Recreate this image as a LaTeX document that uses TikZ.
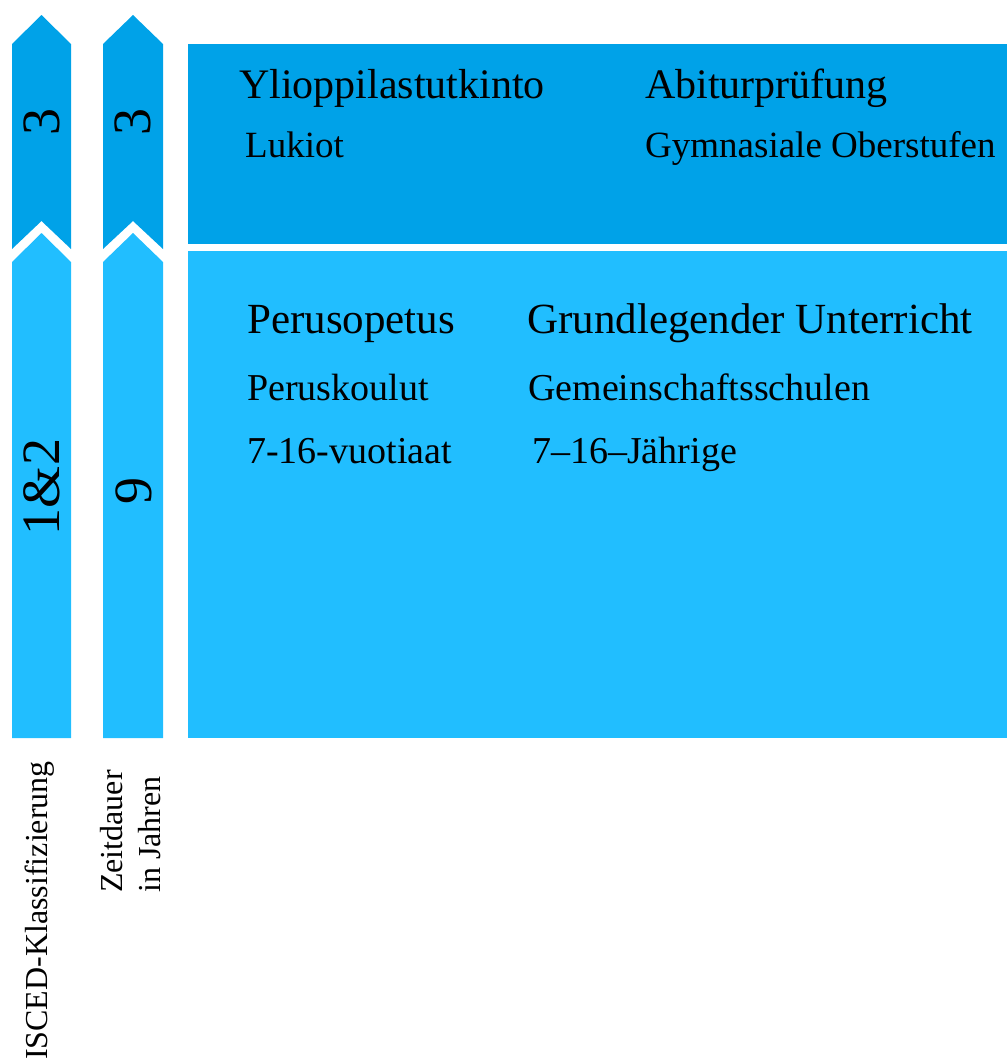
\documentclass[tikz,border=0pt]{standalone}
\usepackage{fontspec}
\setmainfont{Liberation Serif}
\definecolor{darkblue}{RGB}{0,162,232}
\definecolor{lightblue}{RGB}{33,190,255}
\begin{document}
\begin{tikzpicture}[x=1pt,y=-1pt,
  darkfill/.style={fill=darkblue,draw=none},
  lightfill/.style={fill=lightblue,draw=none},
  headtext/.style={inner sep=0pt,anchor=base west,font=\fontsize{42}{48}\selectfont},
  subtext/.style={inner sep=0pt,anchor=base west,font=\fontsize{37}{42}\selectfont},
  headtextb/.style={inner sep=0pt,anchor=base west,font=\fontsize{43}{48}\selectfont},
  subtextb/.style={inner sep=0pt,anchor=base west,font=\fontsize{38}{42}\selectfont},
  arrownum/.style={inner sep=0pt,rotate=90,font=\fontsize{54}{60}\selectfont},
  sidelabel/.style={inner sep=0pt,rotate=90,anchor=base west,font=\fontsize{32}{38}\selectfont}]
\useasboundingbox (0,0) rectangle (1007,1061);
% chevron arrows, column 1
\fill[darkfill] (12,44) -- (41.5,15) -- (71,44) -- (71,249) -- (41.5,221) -- (12,249) -- cycle;
\fill[lightfill] (12,262) -- (41.5,233) -- (71,262) -- (71,738) -- (12,738) -- cycle;
% chevron arrows, column 2
\fill[darkfill] (103,44) -- (133,15) -- (163,44) -- (163,249) -- (133,221) -- (103,249) -- cycle;
\fill[lightfill] (103,262) -- (133,233) -- (163,262) -- (163,738) -- (103,738) -- cycle;
% main boxes
\fill[darkfill] (188,44) rectangle (1007,244);
\fill[lightfill] (188,251) rectangle (1007,738);
% arrow numbers
\node[arrownum] (n1) at (41.5,122) {3};
\node[arrownum] (n2) at (133,122) {3};
\node[arrownum] (n3) at (41.5,487) {1\&2};
\node[arrownum] (n4) at (134,491) {9};
% upper box text
\node[headtext] (t1) at (239,98) {Ylioppilastutkinto};
\node[subtext] (t2) at (245,157) {Lukiot};
\node[headtext] (t3) at (645,98) {Abiturprüfung};
\node[subtext] (t4) at (645,157) {Gymnasiale Oberstufen};
% lower box text
\node[headtextb] (t5) at (247,333) {Perusopetus};
\node[headtextb] (t6) at (527,333) {Grundlegender Unterricht};
\node[subtextb] (t7) at (247,400) {Peruskoulut};
\node[subtextb] (t8) at (528,400) {Gemeinschaftsschulen};
\node[subtextb] (t9) at (247,463) {7-16-vuotiaat};
\node[subtextb] (t10) at (532,463) {7–16–Jährige};
% side labels
\node[sidelabel] (l1) at (47,1060) {ISCED-Klassifizierung};
\node[sidelabel] (l2) at (122,893) {Zeitdauer};
\node[sidelabel] (l3) at (160,893) {in Jahren};
\end{tikzpicture}
\end{document}
